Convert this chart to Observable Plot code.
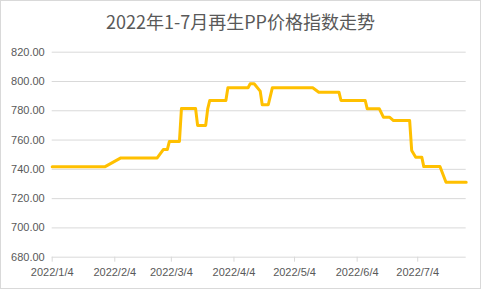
<!DOCTYPE html>
<html><head><meta charset="utf-8">
<script src="https://cdn.jsdelivr.net/npm/d3@7"></script>
<script src="https://cdn.jsdelivr.net/npm/@observablehq/plot@0.6"></script>
<style>
body{margin:0;background:#fff;}
#wrap{position:relative;width:481px;height:289px;overflow:hidden;background:#fff;}
#title{position:absolute;left:0;top:8px;width:481px;text-align:center;font-family:"Noto Sans CJK SC";font-size:18px;line-height:26px;color:#595959;}
#chart{position:absolute;left:0;top:40px;}
#border{position:absolute;left:0;top:0;width:481px;height:289px;box-sizing:border-box;border:1px solid #d9d9d9;pointer-events:none;}
</style></head><body>
<div id="wrap"><div id="title">2022年1-7月再生PP价格指数走势</div><div id="chart"></div><div id="border"></div></div>
<script>
const dates = ["2022-01-04","2022-01-30","2022-02-07","2022-02-25","2022-02-28","2022-03-02","2022-03-03","2022-03-08","2022-03-09","2022-03-16","2022-03-17","2022-03-21","2022-03-22","2022-03-23","2022-03-31","2022-04-01","2022-04-11","2022-04-12","2022-04-14","2022-04-17","2022-04-18","2022-04-21","2022-04-23","2022-05-13","2022-05-16","2022-05-26","2022-05-27","2022-06-08","2022-06-09","2022-06-15","2022-06-17","2022-06-20","2022-06-22","2022-06-30","2022-07-01","2022-07-03","2022-07-06","2022-07-07","2022-07-15","2022-07-18","2022-07-28"];
const values = [741.7,741.7,747.8,747.8,753.5,753.5,759,759,781.5,781.5,770,770,781.3,787,787,795.7,795.7,798.4,798.4,793.4,784.1,784.1,795.7,795.7,792.7,792.7,787,787,781.3,781.3,775.6,775.6,773.3,773.3,752.9,748.3,748.3,741.9,741.9,731.2,731.2];
const yTicks = [680,700,720,740,760,780,800,820];
const xTickDates = ["2022-01-04","2022-02-04","2022-03-04","2022-04-04","2022-05-04","2022-06-04","2022-07-04"];
const xDomain = ["2022-01-04","2022-07-28"];
const title = "2022年1-7月再生PP价格指数走势";

document.getElementById("title").textContent = title;
const data = dates.map((d,i)=>({date:new Date(d), value:values[i]}));
const xTicks = xTickDates.map(d=>new Date(d));

const chart = Plot.plot({
  width:481, height:249,
  marginLeft:51.7, marginRight:15.3, marginTop:11.7, marginBottom:32.3,
  style:{fontFamily:"Liberation Sans", fontSize:"11px", color:"#595959", background:"transparent", overflow:"visible"},
  x:{type:"utc", domain:xDomain.map(d=>new Date(d))},
  y:{domain:[680,820]},
  marks:[
    Plot.ruleY(yTicks.slice(1), {stroke:"#d9d9d9", strokeWidth:1}),
    Plot.ruleY([680], {stroke:"#d9d9d9", strokeWidth:1}),
    Plot.axisY(yTicks, {tickSize:0, tickPadding:7.5, tickFormat:d=>d.toFixed(2), fill:"#595959", label:null}),
    Plot.axisX(xTicks, {tickSize:5, tickPadding:5.5, tickFormat:d3.utcFormat("%Y/%-m/%-d"), stroke:"#d9d9d9", fill:"#595959", label:null}),
    Plot.line(data, {x:"date", y:"value", stroke:"#FFC000", strokeWidth:3, strokeLinejoin:"round"})
  ]
});
document.getElementById("chart").appendChild(chart);
</script>
</body></html>
